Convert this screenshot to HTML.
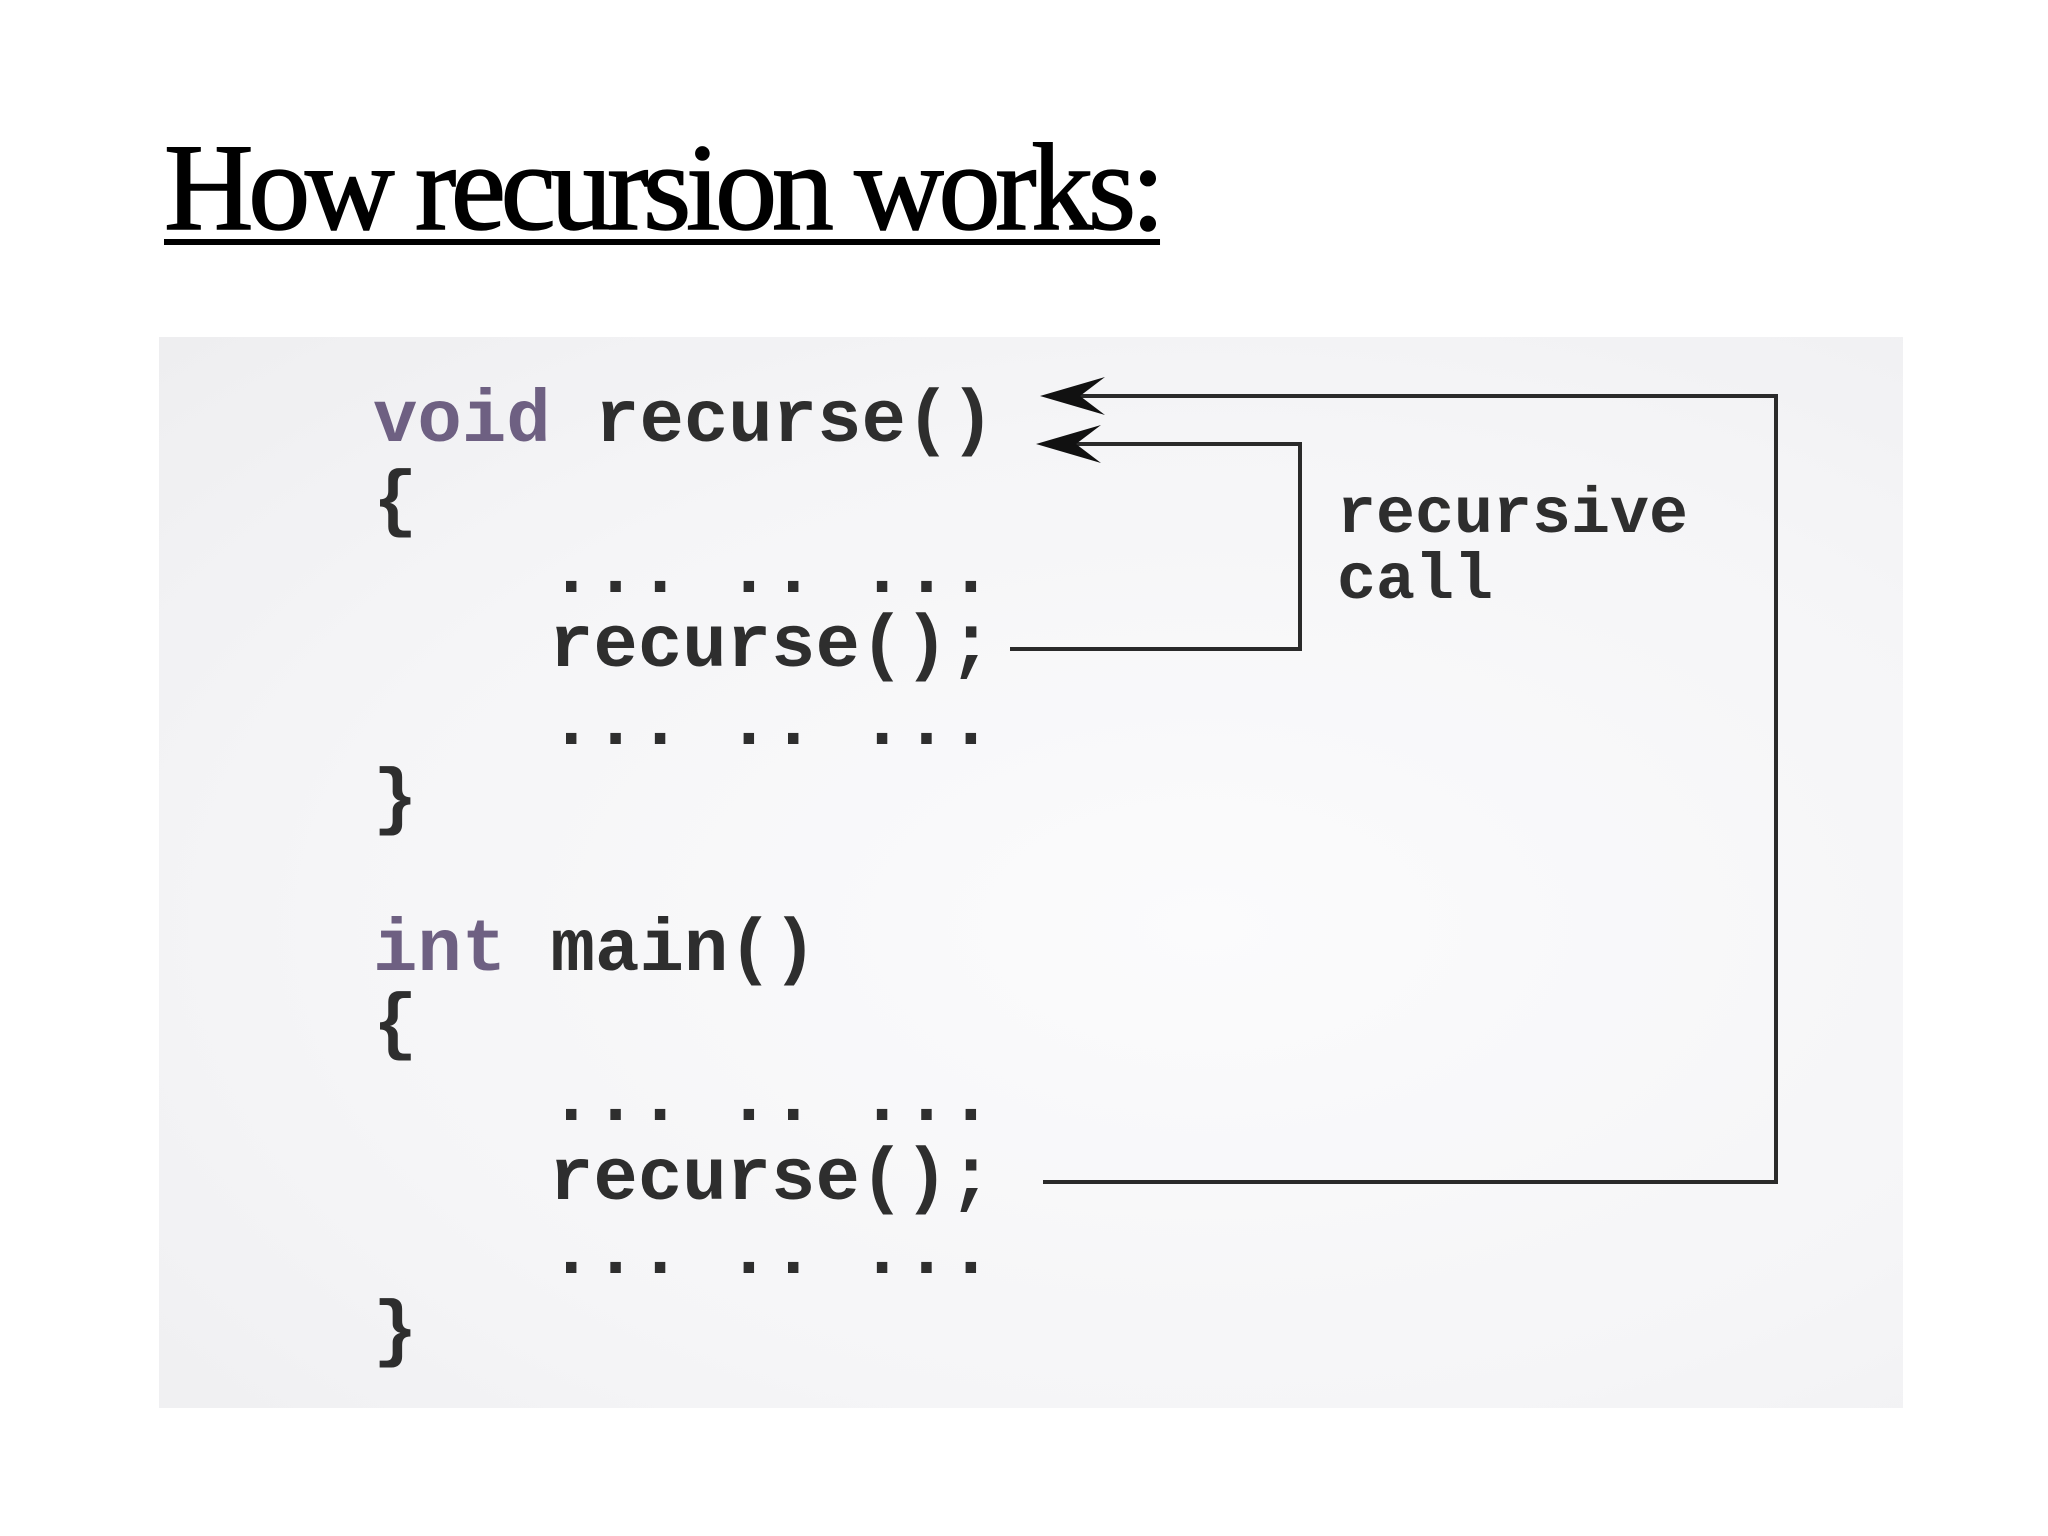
<!DOCTYPE html>
<html><head><meta charset="utf-8"><style>
html,body{margin:0;padding:0;background:#fff;}
body{width:2048px;height:1536px;position:relative;overflow:hidden;}
h1{position:absolute;left:164px;top:118px;margin:0;font-family:"Liberation Serif",serif;font-weight:normal;font-size:124px;letter-spacing:-5.3px;line-height:140px;text-decoration:underline;text-decoration-thickness:6px;text-underline-offset:10px;color:#000;-webkit-text-stroke:1.5px #000;}
.box{position:absolute;left:159px;top:337px;width:1744px;height:1071px;background:radial-gradient(ellipse at 60% 55%,#fbfbfc 0%,#f5f5f7 60%,#eeeef0 100%);}
svg{position:absolute;left:0;top:0;}
text{font-family:"Liberation Mono",monospace;font-weight:bold;fill:#2e2e2e;font-size:74px;}
.k{fill:#6e6082;}
</style></head><body>
<h1>How recursion works:</h1>
<div class="box"></div>
<svg width="2048" height="1536" viewBox="0 0 2048 1536">
<text x="373" y="441"><tspan class="k">void</tspan> recurse()</text>
<text x="373" y="522">{</text>
<text x="549" y="592">... .. ...</text>
<text x="549" y="666">recurse();</text>
<text x="549" y="744">... .. ...</text>
<text x="373" y="820">}</text>
<text x="373" y="970"><tspan class="k">int</tspan> main()</text>
<text x="373" y="1045">{</text>
<text x="549" y="1120">... .. ...</text>
<text x="549" y="1199">recurse();</text>
<text x="549" y="1273">... .. ...</text>
<text x="373" y="1352">}</text>
<text x="1337" y="532" style="font-size:65px">recursive</text>
<text x="1337" y="598" style="font-size:65px">call</text>
<g fill="none" stroke="#2a2a2a" stroke-width="4">
<polyline points="1070,396 1776,396 1776,1182 1043,1182"/>
<polyline points="1062,444 1300,444 1300,649 1010,649"/>
</g>
<g fill="#111">
<polygon points="1040,396 1105,377 1080,396 1105,415"/>
<polygon points="1036,444 1101,425 1076,444 1101,463"/>
</g>
</svg>
</body></html>
